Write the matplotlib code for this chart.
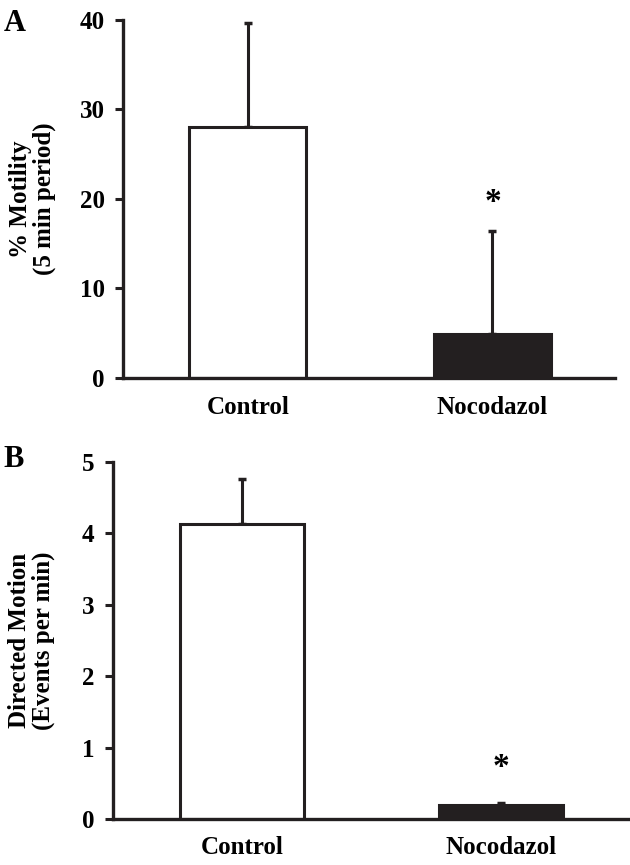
import matplotlib
matplotlib.use("Agg")
import matplotlib.pyplot as plt

plt.rcParams["font.family"] = ["Liberation Serif", "DejaVu Serif"]
plt.rcParams["font.weight"] = "bold"

categories = ["Control", "Nocodazol"]

# panel A : % motility
motility = [28.0, 4.9]
motility_err = [11.7, 11.5]
# panel B : directed motion
directed = [4.13, 0.20]
directed_err = [0.63, 0.03]

colors = ["white", "#231f20"]
INK = "#231f20"

fig = plt.figure(figsize=(6.3, 8.65), dpi=100)
axA = fig.add_axes([0.195, 0.563, 0.781, 0.414])
axB = fig.add_axes([0.179, 0.053, 0.821, 0.413])


def draw_panel(ax, vals, errs, ylim, yticks, ylabel, star_y, xlim, xpad):
    x = range(len(categories))
    ax.bar(x, vals, width=0.48, color=colors, edgecolor=INK, linewidth=2.2, zorder=2)
    ax.errorbar(x, vals, yerr=[[0] * len(errs), errs], fmt="none",
                ecolor=INK, elinewidth=2.2, capsize=3, capthick=2.5, zorder=1)
    ax.set_xlim(*xlim)
    ax.set_ylim(*ylim)
    ax.set_yticks(yticks)
    ax.set_xticks(list(x))
    ax.set_xticklabels(categories, fontsize=18, fontweight="bold")
    ax.tick_params(axis="y", labelsize=18, width=2.2, length=6, color=INK, pad=7)
    ax.tick_params(axis="x", length=0, pad=xpad)
    for s in ["top", "right"]:
        ax.spines[s].set_visible(False)
    for s in ["left", "bottom"]:
        ax.spines[s].set_linewidth(2.4)
        ax.spines[s].set_color(INK)
    ax.set_ylabel(ylabel, fontsize=18, fontweight="bold", linespacing=1.05)
    ax.text(1, star_y, "*", ha="center", va="center", fontsize=24, fontweight="bold")


draw_panel(axA, motility, motility_err, (0, 40), [0, 10, 20, 30, 40],
           "% Motility\n(5 min period)", 19.6, (-0.51, 1.5), 13)
axA.yaxis.set_label_coords(-0.135, 0.5)

draw_panel(axB, directed, directed_err, (0, 5), [0, 1, 2, 3, 4, 5],
           "Directed Motion\n(Events per min)", 0.72, (-0.5, 1.5), 12)
axB.yaxis.set_label_coords(-0.112, 0.5)

fig.text(0.006, 0.99, "A", fontsize=22, fontweight="bold", va="top")
fig.text(0.006, 0.486, "B", fontsize=22, fontweight="bold", va="top")

fig.savefig("out.png", dpi=100, facecolor="white")
